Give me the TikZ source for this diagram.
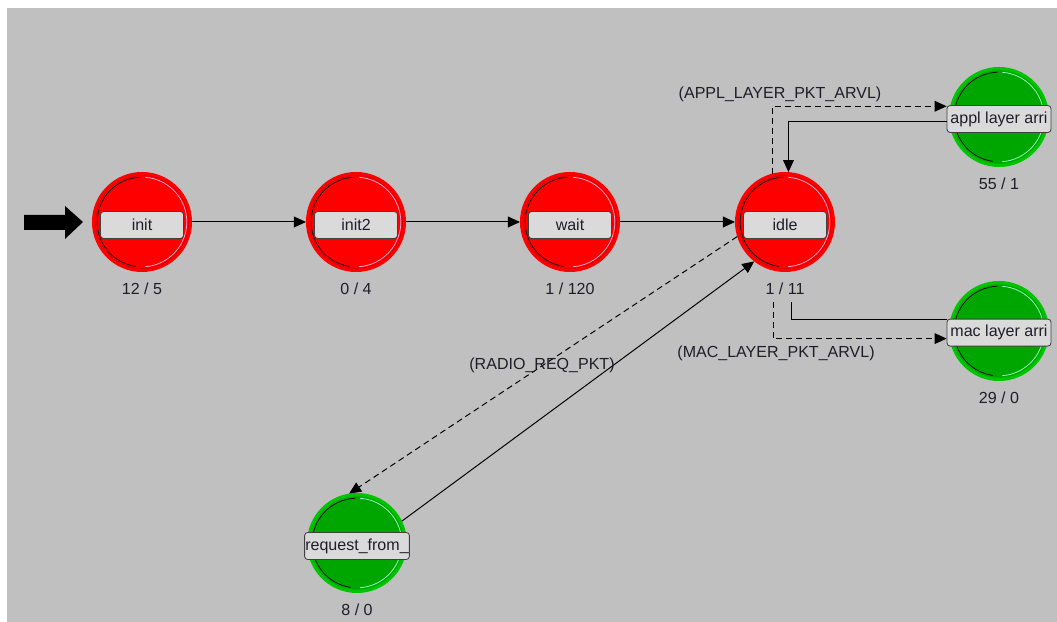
\documentclass[tikz,border=0pt]{standalone}
\usepackage{fontspec}
\setmainfont{Liberation Sans}
\usetikzlibrary{arrows.meta}

\definecolor{canvas}{HTML}{C0C0C0}
\definecolor{unforced}{HTML}{FF0000}
\definecolor{forcedband}{HTML}{00C400}
\definecolor{forced}{HTML}{00A600}
\definecolor{redshine}{HTML}{FFB0E0}
\definecolor{greenshine}{HTML}{A0FFD0}
\definecolor{namefill}{HTML}{DADADA}
\definecolor{ink}{HTML}{1E1E28}

\begin{document}
\begin{tikzpicture}[x=0.025cm,y=0.025cm,font=\fontsize{11.4}{13.7}\selectfont,
  statenode/.style={circle,minimum size=2.5cm,inner sep=0pt,outer sep=0pt},
  namebox/.style={rectangle,rounded corners=0.08cm,draw=black!75,line width=0.6pt,
    fill=namefill,minimum width=2.075cm,minimum height=0.675cm,inner sep=0pt,text=ink},
  counts/.style={anchor=base,inner sep=0pt,text=ink},
  cond/.style={inner sep=0pt,text=ink},
  trans/.style={line width=0.7pt,-{Triangle[length=0.3cm,width=0.27cm]}},
  cut/.style={dash pattern=on 0.15cm off 0.1cm}]
  % canvas
  \useasboundingbox (0,0) rectangle (1057,622);
  \fill[white] (0,0) rectangle (1057,622);
  \fill[canvas] (7,0) rectangle (1057,614);

  % states
  \node[statenode,fill=unforced] (init) at (142,400) {};
  \node[statenode,fill=unforced] (init2) at (356,400) {};
  \node[statenode,fill=unforced] (wait) at (570,400) {};
  \node[statenode,fill=unforced] (idle) at (785,400) {};
  \node[statenode,fill=forcedband] (appl) at (999,505) {};
  \node[statenode,fill=forcedband] (mac) at (999,291) {};
  \node[statenode,fill=forcedband] (request) at (357,79) {};

  % inner disc, rim and shading arcs
  \foreach \s/\core/\rim/\shine in {init/unforced/red!75!black/redshine,
      init2/unforced/red!75!black/redshine, wait/unforced/red!75!black/redshine,
      idle/unforced/red!75!black/redshine, appl/forced/forced/greenshine,
      mac/forced/forced/greenshine, request/forced/forced/greenshine} {
    \fill[\core] (\s) circle (1.16cm);
    \draw[\rim,line width=0.3pt] (\s) circle (1.16cm);
    \draw[black,line width=0.5pt] (\s) ++(92:1.12cm) arc[start angle=92,end angle=262,radius=1.12cm];
    \draw[\shine,line width=0.5pt] (\s) ++(-86:1.12cm) arc[start angle=-86,end angle=86,radius=1.12cm];
  }

  % state names
  \node[namebox] (init-name) at ([yshift=-0.075cm]init.center) {init};
  \node[namebox] (init2-name) at ([yshift=-0.075cm]init2.center) {init2};
  \node[namebox] (wait-name) at ([yshift=-0.075cm]wait.center) {wait};
  \node[namebox] (idle-name) at ([yshift=-0.075cm]idle.center) {idle};
  \node[namebox,minimum width=2.6cm] (appl-name) at ([yshift=-0.05cm]appl.center) {appl layer arri};
  \node[namebox,minimum width=2.6cm] (mac-name) at ([yshift=-0.04cm]mac.center) {mac layer arri};
  \node[namebox,minimum width=2.62cm] (request-name) at ([yshift=-0.075cm]request.center) {request\_from\_};

  % enter / exit counts
  \node[counts] (init-count) at ([yshift=-1.8cm]init.center) {12 / 5};
  \node[counts] (init2-count) at ([yshift=-1.8cm]init2.center) {0 / 4};
  \node[counts] (wait-count) at ([yshift=-1.8cm]wait.center) {1 / 120};
  \node[counts] (idle-count) at ([yshift=-1.8cm]idle.center) {1 / 11};
  \node[counts] (appl-count) at ([yshift=-1.8cm]appl.center) {55 / 1};
  \node[counts] (mac-count) at ([yshift=-1.8cm]mac.center) {29 / 0};
  \node[counts] (request-count) at ([yshift=-1.8cm]request.center) {8 / 0};

  % initial state marker
  \fill[black] (24,407) -- (65,407) -- (65,416) -- (83,400) -- (65,383) -- (65,392) -- (24,392) -- cycle;

  % transitions
  \draw[trans] (init) -- (init2);
  \draw[trans] (init2) -- (wait);
  \draw[trans] (wait) -- (idle);
  \draw[trans,cut] (idle.105) |- ([yshift=-0.03cm]appl-name.north west);
  \draw[trans] ([yshift=-0.075cm]appl-name.west) -| (idle.86);
  \coordinate (idle-exit) at (773,320);
  \coordinate (idle-entry) at (791,320);
  \draw[trans,cut] (idle-exit) |- ([yshift=-0.15cm]mac-name.west);
  \draw[line width=0.7pt] ([yshift=-0.03cm]mac-name.north west) -| (idle-entry);
  \draw[trans,cut] (idle.197) -- (request.99);
  \draw[trans] (request.26) -- (idle.232);

  % conditions
  \node[cond] (appl-guard) at (780,528) {(APPL\_LAYER\_PKT\_ARVL)};
  \node[cond] (mac-guard) at (776,269) {(MAC\_LAYER\_PKT\_ARVL)};
  \node[cond] (radio-guard) at (542,257) {(RADIO\_REQ\_PKT)};
\end{tikzpicture}
\end{document}
